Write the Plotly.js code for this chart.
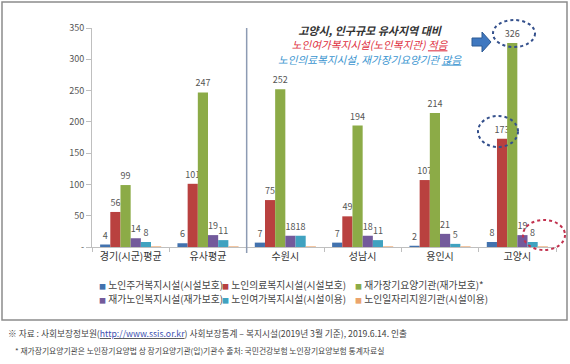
<!DOCTYPE html>
<html><head><meta charset="utf-8">
<script src="https://cdn.plot.ly/plotly-3.0.1.min.js"></script>
<style>html,body{margin:0;padding:0;background:#fff}#chart{width:570px;height:364px}</style>
</head><body><div id="chart"></div>
<script>
// ---- data ----
const categories = ['경기(시군)평균', '유사평균', '수원시', '성남시', '용인시', '고양시'];
const seriesNames = ['노인주거복지시설(시설보호)', '노인의료복지시설(시설보호)', '재가장기요양기관(재가보호)*',
                     '재가노인복지시설(재가보호)', '노인여가복지시설(시설이용)', '노인일자리지원기관(시설이용)'];
const housing     = [4, 6, 7, 7, 2, 8];
const medical     = [56, 101, 75, 49, 107, 173];
const homeCare    = [99, 247, 252, 194, 214, 326];
const homeWelfare = [14, 19, 18, 18, 21, 19];
const leisure     = [8, 11, 18, 11, 5, 8];
const jobs        = [1, 1, 1, 1, 1, 1];
const yTickVals   = [0, 50, 100, 150, 200, 250, 300, 350];
const yTickText   = ['-', '50', '100', '150', '200', '250', '300', '350'];

const seriesValues = [housing, medical, homeCare, homeWelfare, leisure, jobs];
const showLabels = [true, true, true, true, true, false];
const colors = ['#4272ae', '#b9413f', '#8cab47', '#735a9b', '#40a2c0', '#eba46c'];
const FONT = '"Noto Sans CJK KR", "Noto Sans", sans-serif';

const traces = seriesValues.map((vals, i) => ({
  type: 'bar', x: categories, y: vals, name: seriesNames[i],
  marker: {color: colors[i]}, showlegend: false,
  text: showLabels[i] ? vals.map(String) : undefined,
  textposition: showLabels[i] ? 'outside' : 'none',
  constraintext: 'none', cliponaxis: false,
  textfont: {size: 9, color: '#555', family: FONT},
  hoverinfo: 'x+y+name'
}));

// pixel -> paper helpers (plot area: x 92..556, y 28..247)
const L = 92, R = 556, T = 28, B = 247;
const px = v => (v - L) / (R - L);
const py = v => (B - v) / (B - T);

function ellipse(x0, y0, x1, y1, color) {
  return {type: 'circle', xref: 'paper', yref: 'paper', x0: px(x0), x1: px(x1), y0: py(y1), y1: py(y0),
          line: {color: color, width: 2, dash: 'dot'}, fillcolor: 'rgba(0,0,0,0)'};
}
function arrowPath() {
  const pts = [[472, 38], [482, 38], [482, 32], [491, 42], [482, 52], [482, 46], [472, 46]];
  return 'M ' + pts.map(p => px(p[0]) + ',' + py(p[1])).join(' L ') + ' Z';
}

// legend drawn as text entries (3 columns x 2 rows)
const legendCols = [97, 220, 353];
const legendRows = [285, 299];
const legendAnn = seriesNames.map((nm, i) => ({
  xref: 'paper', yref: 'paper', x: px(legendCols[i % 3]), y: py(legendRows[Math.floor(i / 3)]),
  xanchor: 'left', yanchor: 'middle', showarrow: false,
  text: '<span style="color:' + colors[i] + ';font-size:7px">■</span> ' + nm,
  font: {size: 9.8, color: '#444', family: FONT}
}));

const layout = {
  width: 570, height: 364,
  margin: {l: L, r: 570 - R, t: T, b: 364 - B},
  paper_bgcolor: '#fff', plot_bgcolor: '#fff',
  font: {family: FONT, color: '#444'},
  barmode: 'group', bargap: 0.21, bargroupgap: 0,
  showlegend: false,
  xaxis: {type: 'category', showline: true, linecolor: '#bfbfbf', linewidth: 1,
          ticks: 'outside', tickson: 'boundaries', ticklen: 4, tickcolor: '#bfbfbf',
          tickfont: {size: 10, color: '#333', family: FONT}, showgrid: false, fixedrange: true},
  yaxis: {range: [0, 350], tickvals: yTickVals, ticktext: yTickText, showline: true,
          linecolor: '#bfbfbf', linewidth: 1, ticks: 'outside', ticklen: 5, tickcolor: '#bfbfbf',
          tickfont: {size: 9, color: '#555', family: FONT}, showgrid: false, zeroline: false, fixedrange: true},
  shapes: [
    {type: 'rect', xref: 'paper', yref: 'paper', x0: px(2), x1: px(567), y0: py(320), y1: py(2),
     line: {color: '#8c8c8c', width: 1.5}, layer: 'below'},
    {type: 'line', xref: 'x', yref: 'paper', x0: 1.5, x1: 1.5, y0: py(253), y1: 1,
     line: {color: '#8d9bb3', width: 1.5}},
    ellipse(493, 20, 535, 47, '#34508c'),
    ellipse(478, 116, 518, 147, '#34508c'),
    ellipse(523, 220, 565, 250, '#c2324f'),
    {type: 'path', xref: 'paper', yref: 'paper', path: arrowPath(),
     fillcolor: '#3f78c0', line: {color: '#2d5a94', width: 1}}
  ],
  annotations: [
    {xref: 'paper', yref: 'paper', x: px(370), y: py(44.5), yanchor: 'middle', showarrow: false,
     align: 'center',
     text: '<i><b><span style="color:#333;font-size:11px">고양시, 인구규모 유사지역 대비</span></b></i><br>' +
           '<i><span style="color:#de3040;font-size:10.6px">노인여가복지시설(노인복지관) <u>적음</u></span></i><br>' +
           '<i><span style="color:#3b95d0;font-size:10.6px">노인의료복지시설, 재가장기요양기관 <u>많음</u></span></i>',
     font: {size: 11, color: '#333', family: FONT}},
    {xref: 'paper', yref: 'paper', x: px(6), y: py(333), xanchor: 'left', yanchor: 'middle', showarrow: false,
     text: '※ 자료 : 사회보장정보원(<u><span style="color:#3b4fb0">http://www.ssis.or.kr</span></u>) 사회보장통계 – 복지시설(2019년 3월 기준), 2019.6.14. 인출',
     font: {size: 8.7, color: '#444', family: FONT}},
    {xref: 'paper', yref: 'paper', x: px(13), y: py(350), xanchor: 'left', yanchor: 'middle', showarrow: false,
     text: '* 재가장기요양기관은 노인장기요양법 상 장기요양기관(입)기관수 출처: 국민건강보험 노인장기요양보험 통계자료실',
     font: {size: 7.8, color: '#444', family: FONT}}
  ].concat(legendAnn)
};

Plotly.newPlot('chart', traces, layout, {displayModeBar: false, staticPlot: true});
</script></body></html>
